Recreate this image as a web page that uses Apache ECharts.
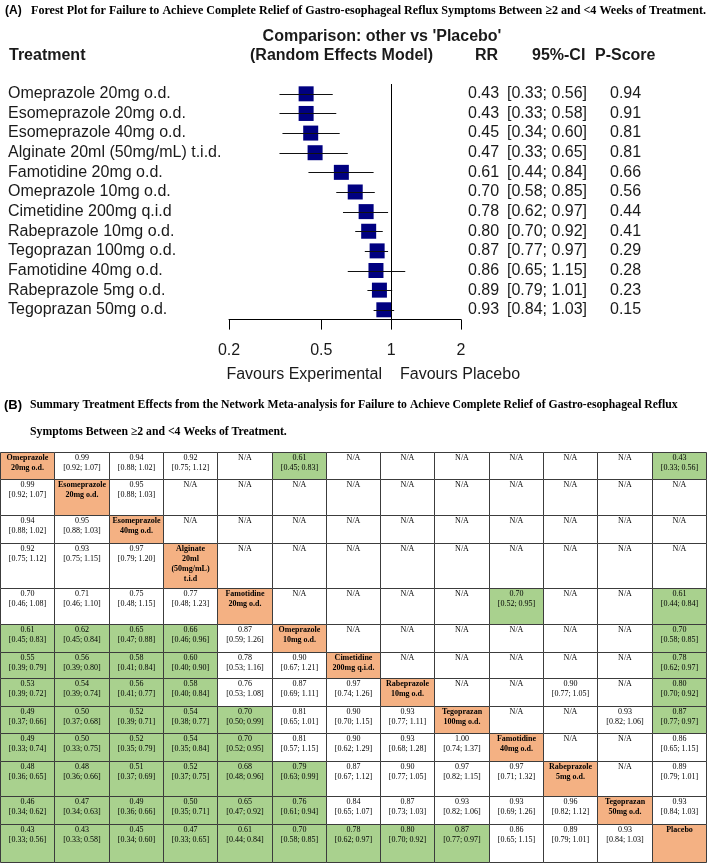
<!DOCTYPE html>
<html><head><meta charset="utf-8">
<script src="https://cdn.jsdelivr.net/npm/echarts@6/dist/echarts.min.js"></script>
<style>html,body{margin:0;padding:0;background:#fff}#c{width:709px;height:863px}</style>
</head><body><div id="c"></div>
<script>
// ---------- Forest plot data ----------
const forestTreatments = ['Omeprazole 20mg o.d.','Esomeprazole 20mg o.d.','Esomeprazole 40mg o.d.','Alginate 20ml (50mg/mL) t.i.d.','Famotidine 20mg o.d.','Omeprazole 10mg o.d.','Cimetidine 200mg q.i.d','Rabeprazole 10mg o.d.','Tegoprazan 100mg o.d.','Famotidine 40mg o.d.','Rabeprazole 5mg o.d.','Tegoprazan 50mg o.d.'];
const forestRR     = [0.43,0.43,0.45,0.47,0.61,0.70,0.78,0.80,0.87,0.86,0.89,0.93];
const forestLower  = [0.33,0.33,0.34,0.33,0.44,0.58,0.62,0.70,0.77,0.65,0.79,0.84];
const forestUpper  = [0.56,0.58,0.60,0.65,0.84,0.85,0.97,0.92,0.97,1.15,1.01,1.03];
const forestPScore = [0.94,0.91,0.81,0.81,0.66,0.56,0.44,0.41,0.29,0.28,0.23,0.15];
const forestTicks  = [0.2,0.5,1,2];

// ---------- League table data ----------
const leagueLabels = ['Omeprazole\n20mg o.d.','Esomeprazole\n20mg o.d.','Esomeprazole\n40mg o.d.','Alginate\n20ml\n(50mg/mL)\nt.i.d','Famotidine\n20mg o.d.','Omeprazole\n10mg o.d.','Cimetidine\n200mg q.i.d.','Rabeprazole\n10mg o.d.','Tegoprazan\n100mg o.d.','Famotidine\n40mg o.d.','Rabeprazole\n5mg o.d.','Tegoprazan\n50mg o.d.','Placebo'];
const D = 'D', NA = null;
const L0  = [D,[0.99,0.92,1.07],[0.94,0.88,1.02],[0.92,0.75,1.12],NA,[0.61,0.45,0.83],NA,NA,NA,NA,NA,NA,[0.43,0.33,0.56]];
const L1  = [[0.99,0.92,1.07],D,[0.95,0.88,1.03],NA,NA,NA,NA,NA,NA,NA,NA,NA,NA];
const L2  = [[0.94,0.88,1.02],[0.95,0.88,1.03],D,NA,NA,NA,NA,NA,NA,NA,NA,NA,NA];
const L3  = [[0.92,0.75,1.12],[0.93,0.75,1.15],[0.97,0.79,1.20],D,NA,NA,NA,NA,NA,NA,NA,NA,NA];
const L4  = [[0.70,0.46,1.08],[0.71,0.46,1.10],[0.75,0.48,1.15],[0.77,0.48,1.23],D,NA,NA,NA,NA,[0.70,0.52,0.95],NA,NA,[0.61,0.44,0.84]];
const L5  = [[0.61,0.45,0.83],[0.62,0.45,0.84],[0.65,0.47,0.88],[0.66,0.46,0.96],[0.87,0.59,1.26],D,NA,NA,NA,NA,NA,NA,[0.70,0.58,0.85]];
const L6  = [[0.55,0.39,0.79],[0.56,0.39,0.80],[0.58,0.41,0.84],[0.60,0.40,0.90],[0.78,0.53,1.16],[0.90,0.67,1.21],D,NA,NA,NA,NA,NA,[0.78,0.62,0.97]];
const L7  = [[0.53,0.39,0.72],[0.54,0.39,0.74],[0.56,0.41,0.77],[0.58,0.40,0.84],[0.76,0.53,1.08],[0.87,0.69,1.11],[0.97,0.74,1.26],D,NA,NA,[0.90,0.77,1.05],NA,[0.80,0.70,0.92]];
const L8  = [[0.49,0.37,0.66],[0.50,0.37,0.68],[0.52,0.39,0.71],[0.54,0.38,0.77],[0.70,0.50,0.99],[0.81,0.65,1.01],[0.90,0.70,1.15],[0.93,0.77,1.11],D,NA,NA,[0.93,0.82,1.06],[0.87,0.77,0.97]];
const L9  = [[0.49,0.33,0.74],[0.50,0.33,0.75],[0.52,0.35,0.79],[0.54,0.35,0.84],[0.70,0.52,0.95],[0.81,0.57,1.15],[0.90,0.62,1.29],[0.93,0.68,1.28],[1.00,0.74,1.37],D,NA,NA,[0.86,0.65,1.15]];
const L10 = [[0.48,0.36,0.65],[0.48,0.36,0.66],[0.51,0.37,0.69],[0.52,0.37,0.75],[0.68,0.48,0.96],[0.79,0.63,0.99],[0.87,0.67,1.12],[0.90,0.77,1.05],[0.97,0.82,1.15],[0.97,0.71,1.32],D,NA,[0.89,0.79,1.01]];
const L11 = [[0.46,0.34,0.62],[0.47,0.34,0.63],[0.49,0.36,0.66],[0.50,0.35,0.71],[0.65,0.47,0.92],[0.76,0.61,0.94],[0.84,0.65,1.07],[0.87,0.73,1.03],[0.93,0.82,1.06],[0.93,0.69,1.26],[0.96,0.82,1.12],D,[0.93,0.84,1.03]];
const L12 = [[0.43,0.33,0.56],[0.43,0.33,0.58],[0.45,0.34,0.60],[0.47,0.33,0.65],[0.61,0.44,0.84],[0.70,0.58,0.85],[0.78,0.62,0.97],[0.80,0.70,0.92],[0.87,0.77,0.97],[0.86,0.65,1.15],[0.89,0.79,1.01],[0.93,0.84,1.03],D];
const leagueRows = [L0,L1,L2,L3,L4,L5,L6,L7,L8,L9,L10,L11,L12];

// layout (relative row heights of the table)
const rowWeights = [27,36,28,45,36,28,27,28,27,28,35,28,38];

const SANS = '"Liberation Sans", Arial, sans-serif';
const SERIF = '"Liberation Serif", "Times New Roman", serif';
const f2 = v => v.toFixed(2);

// measure helper for title fitting
const mctx = document.createElement('canvas').getContext('2d');
function measure(text, font){ mctx.font = font; return mctx.measureText(text).width; }

const titleA = 'Forest Plot for Failure to Achieve Complete Relief of Gastro-esophageal Reflux Symptoms Between \u22652 and <4 Weeks of Treatment.';
const fontA = 'bold 13px ' + SERIF;
const scaleA = 675 / measure(titleA, fontA);

const titleB1 = 'Summary Treatment Effects from the Network Meta-analysis for Failure to Achieve Complete Relief of Gastro-esophageal Reflux';
const titleB2 = 'Symptoms Between \u22652 and <4 Weeks of Treatment.';
const sizeB = 12 * 648 / measure(titleB1, 'bold 12px ' + SERIF);
const fontB = 'bold ' + sizeB.toFixed(2) + 'px ' + SERIF;

// cells
const rowStart = [];
let acc = 0;
rowWeights.forEach(w => { rowStart.push(acc); acc += w; });
const totalRows = acc;
const cells = [];
leagueRows.forEach((row, r) => {
  row.forEach((v, c) => {
    let kind, text;
    if (v === D) { kind = 'diag'; text = leagueLabels[r]; }
    else if (v === NA) { kind = 'na'; text = 'N/A'; }
    else { kind = v[2] < 1 ? 'sig' : 'ns'; text = f2(v[0]) + '\n[' + f2(v[1]) + '; ' + f2(v[2]) + ']'; }
    cells.push({ c, r, kind, text, y0: rowStart[r], y1: rowStart[r] + rowWeights[r] });
  });
});
const fills = { diag: '#F4B183', sig: '#A9D18E', ns: '#FFFFFF', na: '#FFFFFF' };

const chart = echarts.init(document.getElementById('c'), null, { renderer: 'canvas' });

const labelStyle = { fontSize: 16, fontFamily: SANS, color: '#1a1a1a', interval: 0 };

chart.setOption({
  animation: false,
  backgroundColor: '#fff',
  grid: [
    { left: 229, top: 84, width: 232, height: 235.6 },
    { left: 0, top: 452, width: 706, height: 410 }
  ],
  xAxis: [
    { type: 'log', logBase: 10, min: 0.2, max: 2, gridIndex: 0,
      axisLine: { show: true, lineStyle: { color: '#000', width: 1 } },
      axisTick: { show: true, customValues: forestTicks, length: 10, lineStyle: { color: '#000' } },
      axisLabel: { customValues: forestTicks, margin: 23, fontSize: 16, fontFamily: SANS, color: '#1a1a1a',
        formatter: v => String(+(+v).toPrecision(2)) },
      splitLine: { show: false } },
    { type: 'value', min: 0, max: 13, gridIndex: 1, show: false }
  ],
  yAxis: [
    { type: 'category', data: forestTreatments, inverse: true, gridIndex: 0,
      axisLine: { show: false }, axisTick: { show: false }, splitLine: { show: false },
      axisLabel: { margin: 221, align: 'left', ...labelStyle } },
    { type: 'category', data: forestTreatments, inverse: true, gridIndex: 0, position: 'right',
      axisLine: { show: false }, axisTick: { show: false },
      axisLabel: { margin: 7, align: 'left', ...labelStyle, formatter: (v, i) => f2(forestRR[i]) } },
    { type: 'category', data: forestTreatments, inverse: true, gridIndex: 0, position: 'right',
      axisLine: { show: false }, axisTick: { show: false },
      axisLabel: { margin: 46, align: 'left', ...labelStyle, formatter: (v, i) => '[' + f2(forestLower[i]) + '; ' + f2(forestUpper[i]) + ']' } },
    { type: 'category', data: forestTreatments, inverse: true, gridIndex: 0, position: 'right',
      axisLine: { show: false }, axisTick: { show: false },
      axisLabel: { margin: 149, align: 'left', ...labelStyle, formatter: (v, i) => f2(forestPScore[i]) } },
    { type: 'value', min: 0, max: totalRows, inverse: true, gridIndex: 1, show: false }
  ],
  graphic: [
    { type: 'text', x: 5, y: 11, style: { text: '(A)', font: 'bold 12px ' + SANS, fill: '#000', verticalAlign: 'middle' } },
    { type: 'text', x: 31, y: 11, scaleX: scaleA, style: { text: titleA, font: fontA, fill: '#000', verticalAlign: 'middle' } },
    { type: 'text', x: 382, y: 37, style: { text: "Comparison: other vs 'Placebo'", font: 'bold 16px ' + SANS, fill: '#1a1a1a', align: 'center', verticalAlign: 'middle' } },
    { type: 'text', x: 9, y: 56, style: { text: 'Treatment', font: 'bold 16px ' + SANS, fill: '#1a1a1a', verticalAlign: 'middle' } },
    { type: 'text', x: 250, y: 56, style: { text: '(Random Effects Model)', font: 'bold 16px ' + SANS, fill: '#1a1a1a', verticalAlign: 'middle' } },
    { type: 'text', x: 475, y: 56, style: { text: 'RR', font: 'bold 16px ' + SANS, fill: '#1a1a1a', verticalAlign: 'middle' } },
    { type: 'text', x: 532, y: 56, style: { text: '95%-CI', font: 'bold 16px ' + SANS, fill: '#1a1a1a', verticalAlign: 'middle' } },
    { type: 'text', x: 595, y: 56, style: { text: 'P-Score', font: 'bold 16px ' + SANS, fill: '#1a1a1a', verticalAlign: 'middle' } },
    { type: 'text', x: 382, y: 375, style: { text: 'Favours Experimental', font: '16px ' + SANS, fill: '#1a1a1a', align: 'right', verticalAlign: 'middle' } },
    { type: 'text', x: 400, y: 375, style: { text: 'Favours Placebo', font: '16px ' + SANS, fill: '#1a1a1a', align: 'left', verticalAlign: 'middle' } },
    { type: 'text', x: 4, y: 405, style: { text: '(B)', font: 'bold 13px ' + SANS, fill: '#000', verticalAlign: 'middle' } },
    { type: 'text', x: 30, y: 405, style: { text: titleB1, font: fontB, fill: '#000', verticalAlign: 'middle' } },
    { type: 'text', x: 30, y: 432, style: { text: titleB2, font: fontB, fill: '#000', verticalAlign: 'middle' } }
  ],
  series: [
    { type: 'scatter', xAxisIndex: 0, yAxisIndex: 0, symbol: 'rect', symbolSize: 15,
      itemStyle: { color: '#000080', opacity: 1 }, silent: true, z: 3,
      data: forestRR.map((v, i) => [v, i]),
      markLine: { silent: true, symbol: ['none', 'none'], label: { show: false },
        lineStyle: { color: '#000', type: 'solid', width: 1 }, data: [{ xAxis: 1 }] } },
    { type: 'custom', xAxisIndex: 0, yAxisIndex: 0, z: 4, silent: true,
      data: forestRR.map((v, i) => [i, forestLower[i], forestUpper[i]]),
      encode: { x: [1, 2], y: 0 },
      renderItem: (params, api) => {
        const a = api.coord([api.value(1), api.value(0)]);
        const b = api.coord([api.value(2), api.value(0)]);
        const y = Math.round(a[1]) + 0.5;
        return { type: 'line', shape: { x1: a[0], y1: y, x2: b[0], y2: y }, style: { stroke: '#111', lineWidth: 1 } };
      } },
    { type: 'custom', xAxisIndex: 1, yAxisIndex: 4, silent: true,
      data: cells.map(c => [c.c, c.y0, c.y1]),
      encode: { x: 0, y: [1, 2] },
      renderItem: (params, api) => {
        const cell = cells[params.dataIndex];
        const p0 = api.coord([cell.c, cell.y0]);
        const p1 = api.coord([cell.c + 1, cell.y1]);
        const x0 = Math.round(p0[0]) + 0.5, y0 = Math.round(p0[1]) + 0.5;
        const x1 = Math.round(p1[0]) + 0.5, y1 = Math.round(p1[1]) + 0.5;
        const bold = cell.kind === 'diag';
        return { type: 'group', children: [
          { type: 'rect', shape: { x: x0, y: y0, width: x1 - x0, height: y1 - y0 },
            style: { fill: fills[cell.kind], stroke: '#3c3c3c', lineWidth: 1 } },
          { type: 'text', style: { text: cell.text, x: (x0 + x1) / 2, y: y0 + 0.5,
            align: 'center', verticalAlign: 'top', lineHeight: 10,
            font: (bold ? 'bold ' : '') + '8px ' + SERIF, fill: '#000' } }
        ] };
      } }
  ]
});
</script></body></html>
